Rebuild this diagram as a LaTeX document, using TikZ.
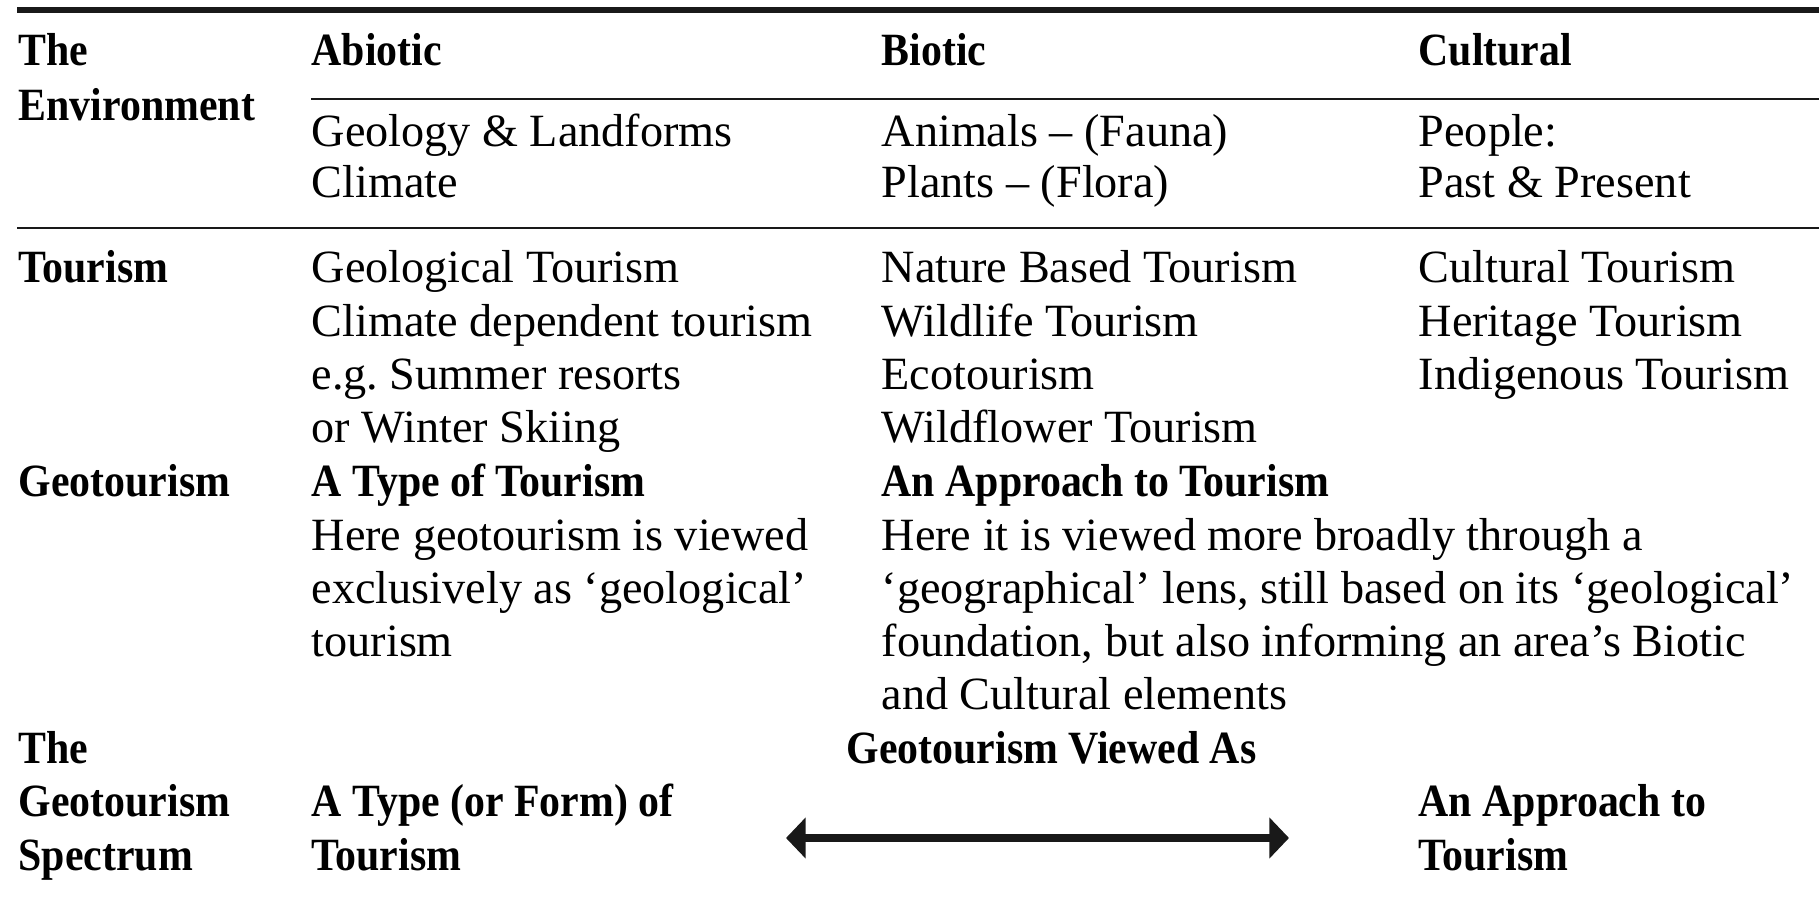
\documentclass[tikz,border=0pt]{standalone}
\usepackage{fontspec}
\setmainfont{Liberation Serif}[BoldFeatures={FakeStretch=0.905}]
\usepackage{tikz}
\usetikzlibrary{arrows.meta}
\tikzstyle{cell} = [anchor=base west, inner sep=0pt, font=\fontsize{13.15}{15.2}\selectfont]
\tikzstyle{head} = [cell, font=\fontsize{13.15}{15.2}\selectfont\bfseries]
\tikzstyle{toprule} = [line width=1.5pt, black!90]
\tikzstyle{midrule} = [line width=0.8pt, black!90]
\tikzstyle{spectrum} = [line width=2pt, black!90, {Triangle[length=5.6pt,width=11.4pt]}-{Triangle[length=5.6pt,width=11.4pt]}]

\begin{document}
\begin{tikzpicture}[x=0.1mm,y=-0.1mm]
	\useasboundingbox (0,0) rectangle (1819,900);
	% rules
	\draw [toprule] (17,10) -- (1819,10);
	\draw [midrule] (311,99) -- (1819,99);
	\draw [midrule] (17,228) -- (1819,228);
	% left column
	\node (env1)[head] at (18,66) {The};
	\node (env2)[head] at (18,121) {Environment};
	\node (tour)[head] at (18,283) {Tourism};
	\node (geo)[head] at (18,496) {Geotourism};
	\node (spec1)[head] at (18,763) {The};
	\node (spec2)[head] at (18,816) {Geotourism};
	\node (spec3)[head] at (18,870) {Spectrum};
	% column heads
	\node (abiotic)[head] at (311,66) {Abiotic};
	\node (biotic)[head] at (881,66) {Biotic};
	\node (cultural)[head] at (1418,66) {Cultural};
	% environment row
	\node (geol)[cell] at (311,147) {Geology \& Landforms};
	\node (clim)[cell] at (311,198) {Climate};
	\node (fauna)[cell] at (881,147) {Animals – (Fauna)};
	\node (flora)[cell] at (881,198) {Plants – (Flora)};
	\node (people)[cell] at (1418,147) {People:};
	\node (past)[cell] at (1418,198) {Past \& Present};
	% tourism row
	\foreach \t [count=\i] in {Geological Tourism, Climate dependent tourism, e.g.\ Summer resorts, or Winter Skiing}
		\node (abt\i)[cell] at (311,{283+53.3*(\i-1)}) {\t};
	\foreach \t [count=\i] in {Nature Based Tourism, Wildlife Tourism, Ecotourism, Wildflower Tourism}
		\node (bit\i)[cell] at (881,{283+53.3*(\i-1)}) {\t};
	\foreach \t [count=\i] in {Cultural Tourism, Heritage Tourism, Indigenous Tourism}
		\node (cut\i)[cell] at (1418,{283+53.3*(\i-1)}) {\t};
	% geotourism row
	\node (type)[head] at (311,496) {A Type of Tourism};
	\node (appr)[head] at (881,496) {An Approach to Tourism};
	\foreach \t [count=\i] in {Here geotourism is viewed, exclusively as ‘geological’, tourism}
		\node (typet\i)[cell] at (311,{550+53.3*(\i-1)}) {\t};
	\foreach \t [count=\i] in {Here it is viewed more broadly through a, {‘geographical’ lens, still based on its ‘geological’}, {foundation, but also informing an area’s Biotic}, and Cultural elements}
		\node (apprt\i)[cell] at (881,{550+53.3*(\i-1)}) {\t};
	% spectrum row
	\node (viewed)[head] at (846,763) {Geotourism Viewed As};
	\node (form1)[head] at (311,816) {A Type (or Form) of};
	\node (form2)[head] at (311,870) {Tourism};
	\node (appr1)[head] at (1418,816) {An Approach to};
	\node (appr2)[head] at (1418,870) {Tourism};
	\coordinate (arrl) at (786,838);
	\coordinate (arrr) at (1289,838);
	\draw [spectrum] (arrl) -- (arrr);
\end{tikzpicture}
\end{document}
